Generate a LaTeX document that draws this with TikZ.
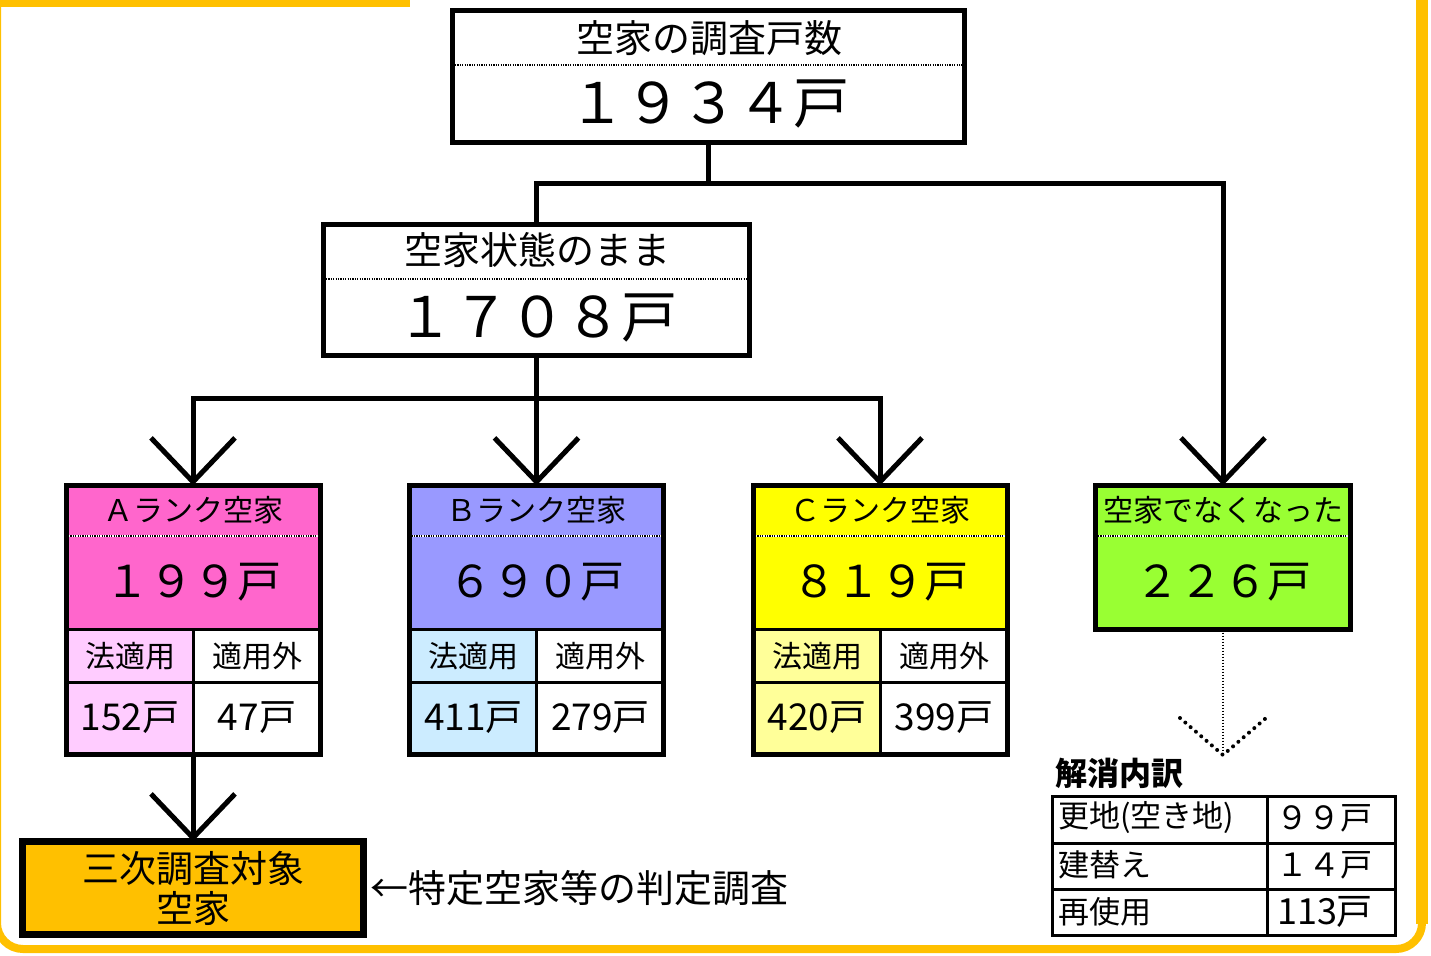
\documentclass[tikz,border=0pt]{standalone}
\usepackage{fontspec}
\setmainfont{Noto Sans CJK JP}
\usetikzlibrary{arrows.meta,backgrounds}
\definecolor{frameY}{HTML}{FFC000}
\definecolor{pinkC}{HTML}{FF66CC}
\definecolor{pinkL}{HTML}{FFCCFF}
\definecolor{blueC}{HTML}{9999FF}
\definecolor{blueL}{HTML}{CCECFF}
\definecolor{yelC}{HTML}{FFFF00}
\definecolor{yelL}{HTML}{FFFF99}
\definecolor{greenC}{HTML}{99FF33}
\definecolor{orangeC}{HTML}{FFC000}
\newcommand{\fsz}[1]{\fontsize{#1}{#1}\selectfont}
\newcommand{\dotsep}[3]{%
  \draw[white, line width=2.5pt] (#1,#3) -- (#2,#3);
  \draw[line width=2.5pt, dash pattern=on 1.2pt off 1.2pt] (#1,#3) -- (#2,#3);}
\newcommand{\rankbox}[8]{%
  \node[box, minimum width=254pt, minimum height=269pt] (#1) at (#2,620) {};
  \begin{scope}[on background layer]
    \fill[#3] (#2-127,485.5) rectangle (#2+127,629);
    \fill[#4] (#2-127,629) rectangle (#2,754.5);
    \fill[white] (#2,629) rectangle (#2+127,754.5);
  \end{scope}
  \dotsep{#2-125}{#2+125}{536}
  \draw[grid] (#2-127,629) -- (#2+127,629);
  \draw[grid] (#2-127,682) -- (#2+127,682);
  \draw[grid] (#2,629) -- (#2,754.5);
  \node[font=\fsz{30}] (#1-t) at (#2,510) {#5};
  \node[font=\fsz{44}] (#1-n) at (#2,582) {#6};
  \node[font=\fsz{30}] (#1-hl) at (#2-63,656) {法適用};
  \node[font=\fsz{30}] (#1-hr) at (#2+64,656) {適用外};
  \node[font=\fsz{37}] (#1-vl) at (#2-63,718) {#7};
  \node[font=\fsz{37}] (#1-vr) at (#2+64,718) {#8};
}
\begin{document}
\begin{tikzpicture}[x=1pt,y=-1pt,
  box/.style={draw, line width=5pt, inner sep=0pt, outer sep=0pt, rectangle},
  conn/.style={line width=5pt},
  vtip/.style={-{Straight Barb[length=44pt,width=84pt]}},
  grid/.style={line width=3pt},
  every node/.style={inner sep=0pt}]
\useasboundingbox (0,0) rectangle (1431,955);
% frame
\draw[frameY, line width=8pt, rounded corners=26pt] (1422,-20) -- (1422,949) -- (-3,949) -- (-3,-20);
\draw[frameY, line width=12pt] (1422,-10) -- (1422,924);
\draw[frameY, line width=7pt] (-5,3.5) -- (410,3.5);
% top box
\node[box, minimum width=512pt, minimum height=132pt] (top) at (708.5,76.5) {};
\dotsep{455}{962}{65}
\node[font=\fsz{38}] (topT) at (709,38) {空家の調査戸数};
\node[font=\fsz{56}] (topN) at (709,104) {１９３４戸};
% middle box
\node[box, minimum width=426pt, minimum height=131pt] (mid) at (536.5,290) {};
\dotsep{326}{747}{279}
\node[font=\fsz{38}] (midT) at (537,250) {空家状態のまま};
\node[font=\fsz{56}] (midN) at (537,318) {１７０８戸};
% rank boxes
\rankbox{A}{193}{pinkC}{pinkL}{Ａランク空家}{１９９戸}{152戸}{47戸}
\rankbox{B}{536.5}{blueC}{blueL}{Ｂランク空家}{６９０戸}{411戸}{279戸}
\rankbox{C}{880}{yelC}{yelL}{Ｃランク空家}{８１９戸}{420戸}{399戸}
% green box
\node[box, fill=greenC, minimum width=255pt, minimum height=144pt] (green) at (1223,557.5) {};
\dotsep{1098}{1348}{536}
\node[font=\fsz{30}] (greenT) at (1223,510) {空家でなくなった};
\node[font=\fsz{44}] (greenN) at (1223,582) {２２６戸};
% connectors
\coordinate (j1) at (708.5,183);
\coordinate (j2) at (536.5,398);
\draw[conn] (top.south) -- (j1);
\draw[conn] (j1) -| (mid.north);
\draw[conn, vtip] (j1) -| (green.north);
\draw[conn] (mid.south) -- (j2);
\draw[conn, vtip] (j2) -| (A.north);
\draw[conn, vtip] (j2) -- (B.north);
\draw[conn, vtip] (j2) -| (C.north);
% dotted arrow
\coordinate (gtip) at (1223,755);
\draw[line width=2.5pt, dash pattern=on 1.5pt off 1.5pt] (green.south) -- (gtip);
\draw[line width=4pt, line cap=round, dash pattern=on 0pt off 7pt] ([shift={(-43,-37)}]gtip) -- (gtip) -- ([shift={(43,-37)}]gtip);
% breakdown table
\node[anchor=west, font=\bfseries\fsz{32}] (kaisho) at (1055,773) {解消内訳};
\node[draw, line width=3pt, outer sep=0pt, minimum width=343pt, minimum height=139pt] (tbl) at (1224,866) {};
\draw[grid] (1267,796.5) -- (1267,935.5);
\draw[grid] (1052.5,843) -- (1395.5,843);
\draw[grid] (1052.5,889) -- (1395.5,889);
\node[anchor=west, font=\fsz{31}] (r1a) at (1058,818) {更地(空き地)};
\node[anchor=west, font=\fsz{31}] (r2a) at (1058,865) {建替え};
\node[anchor=west, font=\fsz{31}] (r3a) at (1058,912) {再使用};
\node[font=\fsz{32}] (r1b) at (1324,818) {９９戸};
\node[font=\fsz{32}] (r2b) at (1324,865) {１４戸};
\node[font=\fsz{36}] (r3b) at (1325,912) {113戸};
% third survey box
\node[box, line width=7pt, fill=orangeC, minimum width=341pt, minimum height=93pt, align=center, font=\fontsize{37}{40}\selectfont] (sanji) at (193,888) {三次調査対象\\空家};
\draw[conn, vtip] (A.south) -- (sanji.north);
\node[anchor=west, font=\fsz{38}] (hantei) at (370,888) {←特定空家等の判定調査};
\end{tikzpicture}
\end{document}
